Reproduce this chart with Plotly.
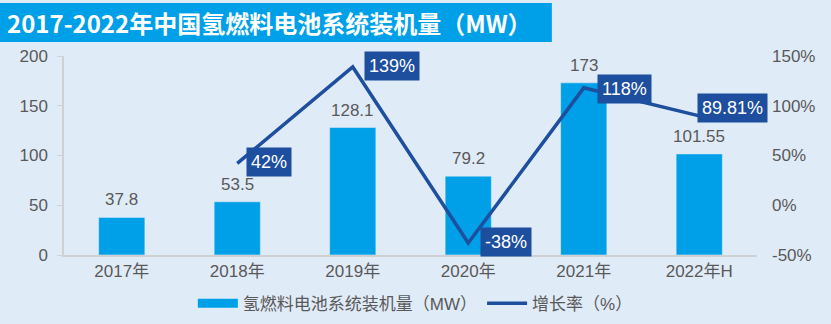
import plotly.graph_objects as go

categories = ["2017年", "2018年", "2019年", "2020年", "2021年", "2022年H"]
capacity_mw = [37.8, 53.5, 128.1, 79.2, 173, 101.55]
capacity_text = ["37.8", "53.5", "128.1", "79.2", "173", "101.55"]
growth_pct = [None, 42, 139, -38, 118, 89.81]
growth_text = ["", "42%", "139%", "-38%", "118%", "89.81%"]
left_ticks = [0, 50, 100, 150, 200]
right_ticks = [-50, 0, 50, 100, 150]
right_tick_text = ["-50%", "0%", "50%", "100%", "150%"]
title_text = "2017-2022年中国氢燃料电池系统装机量（MW）"
bar_name = "氢燃料电池系统装机量（MW）"
line_name = "增长率（%）"

# label box offsets (style only): (xshift px, yshift px)
label_offsets = [None, (9, 1), (11, 1), (12, 1), (13, -1), (-2, 8)]

BG = "#E0EBF8"
BAR = "#00A0E9"
LINE = "#1D4F9E"
GRAY = "#595959"
FONT = "Liberation Sans, Noto Sans CJK SC, sans-serif"
FS = 17

fig = go.Figure()
fig.add_trace(go.Bar(
    x=categories, y=capacity_mw, name=bar_name, marker_color=BAR, width=0.4,
    showlegend=False, yaxis="y",
))
# legend swatch for bars (wide rectangle look)
fig.add_trace(go.Scatter(
    x=[None], y=[None], name=bar_name, mode="lines",
    line=dict(color=BAR, width=9), yaxis="y", showlegend=True,
))
fig.add_trace(go.Scatter(
    x=categories, y=growth_pct, name=line_name, mode="lines",
    line=dict(color=LINE, width=3.5), yaxis="y2", connectgaps=False,
))

# bar value labels
for cat, val, txt in zip(categories, capacity_mw, capacity_text):
    fig.add_annotation(
        x=cat, y=val, xref="x", yref="y", text=txt, showarrow=False,
        xanchor="center", yanchor="bottom", yshift=6,
        font=dict(size=FS, color=GRAY, family=FONT),
    )

# growth labels
for cat, val, txt, off in zip(categories, growth_pct, growth_text, label_offsets):
    if val is None:
        continue
    fig.add_annotation(
        x=cat, y=val, xref="x", yref="y2", text=txt, showarrow=False,
        xanchor="left", yanchor="middle", xshift=off[0], yshift=off[1],
        bgcolor=LINE, borderpad=4, font=dict(size=18, color="white", family=FONT),
    )

# title bar
fig.add_shape(type="rect", xref="paper", yref="paper", x0=-0.0924, x1=0.704,
              y0=1.070, y1=1.266, fillcolor=BAR, line_width=0, layer="below")
fig.add_annotation(xref="paper", yref="paper", x=-0.0851, y=1.166, xanchor="left",
                   yanchor="middle", showarrow=False, text="<b>" + title_text + "</b>",
                   font=dict(size=24, color="white", family="Noto Sans CJK SC, sans-serif"))

fig.update_layout(
    width=831, height=324,
    margin=dict(l=64, r=74, t=56, b=69, autoexpand=False),
    paper_bgcolor=BG, plot_bgcolor=BG,
    font=dict(family=FONT, size=FS, color=GRAY),
    showlegend=True,
    legend=dict(orientation="h", x=0.507, xanchor="center", y=-0.245, yanchor="middle",
                font=dict(size=FS, color=GRAY), bgcolor="rgba(0,0,0,0)", itemwidth=40,
                traceorder="normal"),
    xaxis=dict(showgrid=False, showline=True, linecolor="#D0D0D0", linewidth=1.5,
               range=[-0.5, len(categories) - 0.5],
               ticks="", tickfont=dict(size=FS, color=GRAY), automargin=False),
    yaxis=dict(range=[0, 200], tickvals=left_ticks, showgrid=False, zeroline=False,
               showline=True, linecolor="#D0D0D0", linewidth=1.5, ticks="outside",
               ticklen=5, tickcolor="#D0D0D0", tickfont=dict(size=FS, color=GRAY),
               ticklabelstandoff=6, automargin=False),
    yaxis2=dict(range=[-50, 150], tickvals=right_ticks, ticktext=right_tick_text,
                overlaying="y", side="right", showgrid=False, zeroline=False,
                showline=False, tickfont=dict(size=FS, color=GRAY), ticklabelstandoff=14,
                automargin=False),
)

fig.write_html("out.html")
